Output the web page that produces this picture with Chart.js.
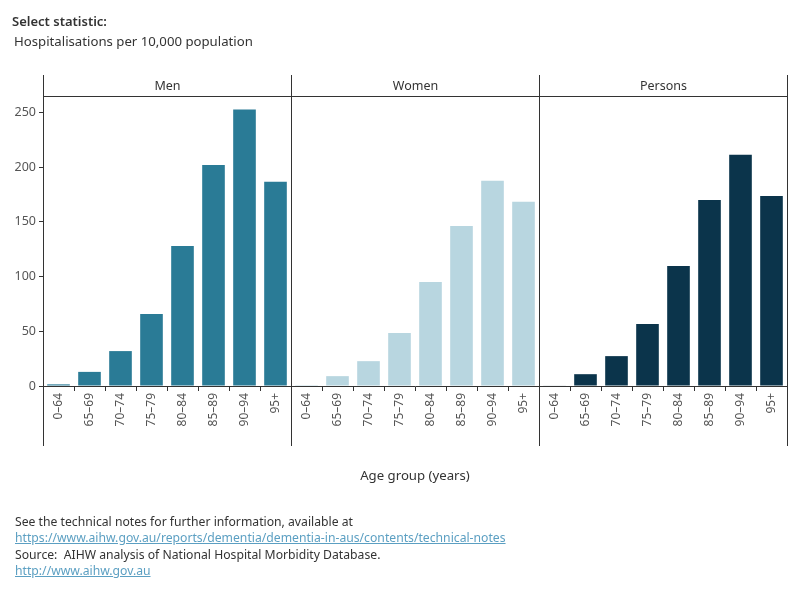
<!DOCTYPE html>
<html>
<head>
<meta charset="utf-8">
<script src="https://cdn.jsdelivr.net/npm/chart.js@4"></script>
<style>
  html, body { margin: 0; padding: 0; background: #fff; }
  body { width: 800px; height: 600px; position: relative; overflow: hidden; font-family: "Noto Sans", "Open Sans", sans-serif; color: #333; }
  #wrap { position: absolute; left: 0; top: 0; width: 800px; height: 600px; }
  .t { position: absolute; white-space: nowrap; }
  #sel { left: 12px; top: 12px; font-size: 13px; font-weight: 600; color: #333; }
  #stat { left: 14px; top: 32px; font-size: 13.2px; color: #333; }
  #xtitle { left: 0; width: 830px; top: 466px; text-align: center; font-size: 13.2px; color: #333; }
  #foot { left: 15px; top: 514px; font-size: 12.2px; line-height: 16.4px; color: #333; }
  #foot a { color: #5b9fc2; text-decoration: underline; }
</style>
</head>
<body>
<div id="wrap"><canvas id="c" width="800" height="600"></canvas></div>
<div class="t" id="sel">Select statistic:</div>
<div class="t" id="stat">Hospitalisations per 10,000 population</div>
<div class="t" id="xtitle">Age group (years)</div>
<div class="t" id="foot">See the technical notes for further information, available at<br><a>https://www.aihw.gov.au/reports/dementia/dementia-in-aus/contents/technical-notes</a><br>Source:&nbsp; AIHW analysis of National Hospital Morbidity Database.<br><a>http://www.aihw.gov.au</a></div>
<script>
// ---- data ----
const panels = ["Men", "Women", "Persons"];
const ageGroups = ["0–64", "65–69", "70–74", "75–79", "80–84", "85–89", "90–94", "95+"];
const men     = [1.5, 12.9, 31.9, 65.8, 128.0, 202.0, 252.6, 186.6];
const women   = [0.1, 9.0, 22.7, 48.4, 95.0, 146.3, 187.5, 168.3];
const persons = [0.4, 10.8, 27.3, 56.6, 109.7, 170.0, 211.4, 173.6];
const yTicks  = [0, 50, 100, 150, 200, 250];

const panelColors = ["#2a7b96", "#b8d6e0", "#0b344b"];
const seriesList = [men, women, persons];

const labels = [];
const values = [];
const colors = [];
seriesList.forEach((s, p) => {
  ageGroups.forEach((g, i) => {
    labels.push(g);
    values.push(s[i]);
    colors.push(panelColors[p]);
  });
});

const LINE = "#333333";

const panelPlugin = {
  id: "panels",
  afterDraw(chart) {
    const ctx = chart.ctx;
    const x = chart.scales.x;
    const area = chart.chartArea;
    const n = ageGroups.length;
    const top = 75, bottom = 446, headLine = 96.5;
    ctx.save();
    ctx.strokeStyle = LINE;
    ctx.lineWidth = 1;
    ctx.beginPath();
    ctx.moveTo(area.left, headLine);
    ctx.lineTo(area.right, headLine);
    ctx.stroke();
    const bounds = [];
    for (let p = 0; p <= panels.length; p++) {
      let px;
      if (p === 0) px = area.left;
      else if (p === panels.length) px = area.right;
      else px = (x.getPixelForValue(p * n - 1) + x.getPixelForValue(p * n)) / 2;
      px = Math.round(px) + 0.5;
      bounds.push(px);
      ctx.beginPath();
      ctx.moveTo(px, top);
      ctx.lineTo(px, bottom);
      ctx.stroke();
    }
    ctx.fillStyle = "#333";
    ctx.font = '12.5px "Noto Sans", sans-serif';
    ctx.textAlign = "center";
    ctx.textBaseline = "middle";
    panels.forEach((name, p) => {
      ctx.fillText(name, (bounds[p] + bounds[p + 1]) / 2, 86.5);
    });
    ctx.restore();
  }
};

new Chart(document.getElementById("c"), {
  type: "bar",
  data: {
    labels: labels,
    datasets: [{
      data: values,
      backgroundColor: colors,
      borderWidth: 0,
      barPercentage: 0.73,
      categoryPercentage: 1.0
    }]
  },
  options: {
    responsive: false,
    animation: false,
    events: [],
    layout: { padding: { top: 96, right: 13, bottom: 150, left: 0 } },
    plugins: { legend: { display: false }, tooltip: { enabled: false }, title: { display: false } },
    scales: {
      x: {
        type: "category",
        offset: true,
        afterFit(axis) { axis.height = 64; },
        grid: { display: true, offset: true, drawOnChartArea: false, drawTicks: true, tickLength: 5, color: LINE },
        border: { display: true, color: LINE, width: 1 },
        ticks: {
          autoSkip: false, minRotation: 90, maxRotation: 90, padding: 2,
          color: "#555", font: { family: "Noto Sans", size: 12 }
        }
      },
      y: {
        min: 0, max: 265,
        afterFit(axis) { axis.width = 43; },
        afterBuildTicks(axis) { axis.ticks = yTicks.map(v => ({ value: v })); },
        grid: { display: true, drawOnChartArea: false, drawTicks: true, tickLength: 4, color: LINE },
        border: { display: false },
        ticks: { color: "#555", padding: 3, font: { family: "Noto Sans", size: 12.5 } }
      }
    }
  },
  plugins: [panelPlugin]
});
</script>
</body>
</html>
